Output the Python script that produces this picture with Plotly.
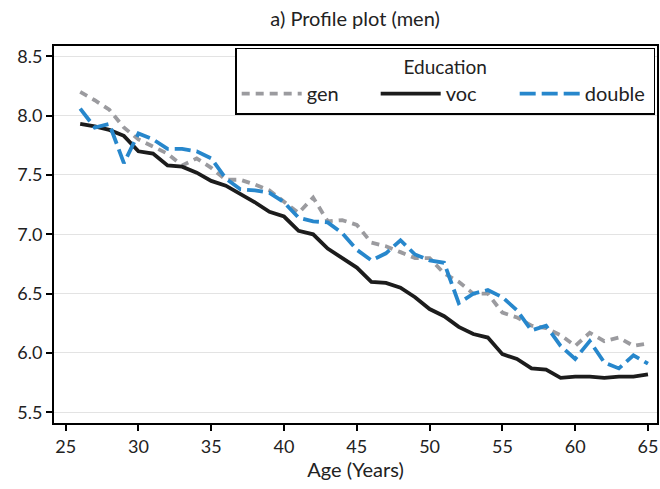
import plotly.graph_objects as go

ages = list(range(26, 66))

gen = [8.20, 8.13, 8.05, 7.90, 7.80, 7.74, 7.68, 7.58, 7.64, 7.56,
       7.46, 7.46, 7.42, 7.37, 7.27, 7.18, 7.31, 7.11, 7.12, 7.08,
       6.93, 6.90, 6.85, 6.80, 6.80, 6.67, 6.60, 6.50, 6.50, 6.34,
       6.30, 6.23, 6.21, 6.15, 6.06, 6.17, 6.10, 6.13, 6.06, 6.08]

voc = [7.93, 7.91, 7.88, 7.83, 7.70, 7.68, 7.58, 7.57, 7.52, 7.45,
       7.41, 7.34, 7.27, 7.19, 7.15, 7.03, 7.00, 6.88, 6.80, 6.72,
       6.60, 6.59, 6.55, 6.47, 6.37, 6.31, 6.22, 6.16, 6.13, 5.99,
       5.95, 5.87, 5.86, 5.79, 5.80, 5.80, 5.79, 5.80, 5.80, 5.82]

double = [8.06, 7.90, 7.93, 7.60, 7.85, 7.80, 7.72, 7.72, 7.70, 7.64,
          7.47, 7.38, 7.37, 7.35, 7.27, 7.14, 7.11, 7.10, 7.01, 6.87,
          6.78, 6.84, 6.95, 6.83, 6.78, 6.76, 6.42, 6.50, 6.53, 6.47,
          6.36, 6.19, 6.23, 6.06, 5.95, 6.10, 5.92, 5.87, 5.98, 5.91]

x_ticks = [25, 30, 35, 40, 45, 50, 55, 60, 65]
y_ticks = [5.5, 6.0, 6.5, 7.0, 7.5, 8.0, 8.5]

font = "Lato, 'Open Sans', sans-serif"

series = [
    ("gen", gen, "#9b9b9f", "8px,6px"),
    ("voc", voc, "#1c1c1c", "solid"),
    ("double", double, "#2787cc", "16px,6px"),
]

fig = go.Figure()
for name, vals, color, dash in series:
    fig.add_trace(go.Scatter(
        x=ages, y=vals, name=name, mode="lines",
        line=dict(color=color, width=3.8, dash=dash),
    ))

fig.update_layout(
    width=660, height=489,
    template="plotly_white",
    plot_bgcolor="white",
    font=dict(family=font, size=18, color="#222"),
    title=dict(text="a) Profile plot (men)", x=0.538, xanchor="center",
               y=0.962, yanchor="middle", font=dict(size=20)),
    margin=dict(l=54, r=3, t=46, b=66),
    legend=dict(
        orientation="h",
        x=0.997, xanchor="right", y=0.995, yanchor="top",
        bordercolor="black", borderwidth=1.5, bgcolor="white",
        title=dict(text="Education", side="top center", font=dict(size=19)),
        itemwidth=60, entrywidth=64,
        font=dict(size=20),
    ),
)
fig.update_xaxes(
    range=[24.2, 65.62], tickvals=x_ticks, ticks="outside", ticklen=6,
    tickwidth=1.5, tickcolor="black", showgrid=False, zeroline=False,
    showline=True, linecolor="black", linewidth=2, mirror=True,
    automargin=False,
    title=dict(text="Age (Years)", font=dict(size=20), standoff=6),
)
fig.update_yaxes(
    range=[5.41, 8.587], tickvals=y_ticks, tickformat=".1f", ticks="outside",
    ticklen=6, tickwidth=1.5, tickcolor="black", showgrid=True,
    gridcolor="#e3e3e3", gridwidth=1, zeroline=False,
    showline=True, linecolor="black", linewidth=2, mirror=True,
    automargin=False,
)

# the page's default body margin would push the figure 8px off the corner
fig.write_html("out.html", config={"displayModeBar": False},
               post_script="document.body.style.margin='0';")
